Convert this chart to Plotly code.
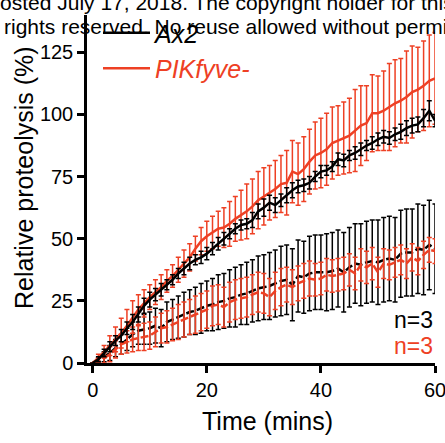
import plotly.graph_objects as go

# ---- data ----
time_min = list(range(61))

ax2 = [0, 1.5, 4, 6.5, 9, 11, 14, 16.5, 19.5, 23,
       25.5, 27.5, 29.5, 31.5, 33.5, 36, 38, 40, 41.5, 42.5,
       44, 46, 48, 50, 52, 54, 55.5, 56, 57.5, 61,
       62.5, 64.5, 63.5, 65.5, 67.5, 69.5, 71, 71.5, 72.5, 75,
       77, 77.5, 79, 82, 81.5, 83.5, 84.5, 86, 87.5, 88.5,
       90, 91, 90.5, 92, 93, 94.5, 95.5, 96, 98.5, 101.5, 97.5]
ax2_err = [0, 1, 1.5, 2, 2, 2.5, 2.5, 3, 3, 3,
           3, 2.5, 2.5, 2, 2, 2, 2.5, 2.5, 2, 2.5,
           2.5, 2.5, 2.5, 2.5, 2, 2, 2, 2, 3, 3,
           3.5, 3, 3, 2.5, 3, 3, 2.5, 2.5, 2.5, 2,
           2.5, 2, 2, 2.5, 2.5, 2, 2.5, 2.5, 2, 2.5,
           2.5, 2.5, 2.5, 2.5, 3, 3, 3, 3, 3.5, 4, 2.5]

pik = [0, 2, 4.5, 7, 9.5, 12, 15, 18.5, 21.5, 24,
       26.5, 28.5, 30.5, 33, 35, 37.5, 40, 42.5, 46, 49,
       51, 52.5, 54, 54.5, 56, 58, 59.5, 61, 63, 65.5,
       67, 68.5, 70, 72, 72.5, 77, 76, 78, 81, 83.5,
       84.5, 86, 88.5, 89.5, 90.5, 91.5, 93.5, 95.5, 96.5, 100.5,
       100.5, 101.5, 103, 104.5, 105.5, 107, 109, 110, 111.5, 113.5, 114.5]
pik_err = [0, 1.5, 2.5, 4, 5, 6, 6.5, 6.5, 6, 5.5,
           5, 5, 5, 4.5, 4.5, 5, 5.5, 5.5, 5, 5.5,
           6, 6.5, 7, 8, 9, 9, 10, 11, 11, 11.5,
           11.5, 11, 11.5, 11.5, 13, 12.5, 12.5, 13, 13, 13.5,
           14, 14.5, 14.5, 14, 14.5, 15, 16.5, 16, 15, 15.5,
           15, 16, 17.5, 17.5, 17, 18.5, 18.5, 17, 18, 18.5, 18.5]

ax2_low = [0, 1, 2.5, 4, 6, 7.5, 9.5, 11.5, 13, 13.5,
           14, 15, 14, 16.5, 17.5, 18.5, 19.5, 20.5, 21, 22,
           23, 23.5, 24.5, 25, 26, 26.5, 27.5, 28, 29, 30,
           30.5, 31, 32, 33, 33.5, 31.5, 35, 34.5, 36, 36.5,
           36.5, 36.5, 37, 38, 36.5, 38.5, 40, 39.5, 40.5, 41,
           40.5, 41.5, 42, 41.5, 44, 44.5, 44.5, 46, 45.5, 47.5, 46]
ax2_low_err = [0, 1, 2, 3, 3.5, 4, 4.5, 5, 5.5, 6,
               6.5, 7, 7.5, 8, 8, 8.5, 9, 9, 9.5, 10,
               10, 10.5, 11, 11, 11.5, 12, 12, 12.5, 12.5, 13,
               13, 13.5, 13.5, 14, 14, 14.5, 14.5, 14.5, 15, 15,
               15, 15.5, 15.5, 15.5, 16, 16, 16, 16.5, 16.5, 16.5,
               17, 17, 17, 17, 17.5, 17.5, 17.5, 18, 18, 18, 18]

pik_low = [0, 1, 2, 3.5, 5.5, 7.5, 8.5, 9.5, 10, 10.5,
           11, 12.5, 14, 14.5, 15.5, 16.5, 17.5, 18.5, 19.5, 20.5,
           21.5, 23, 23.5, 22.5, 24.5, 25.5, 26, 26.5, 27.5, 28.5,
           28, 26.5, 29, 30.5, 31.5, 30.5, 32, 33, 34, 33.5,
           34, 35.5, 35, 35.5, 36, 37.5, 36, 39.5, 38.5, 40,
           36.5, 40, 39.5, 40.5, 41.5, 40, 42.5, 41, 43.5, 45.5, 45]
pik_low_err = [0, 1, 2, 3, 3.5, 4, 4.5, 5, 5, 5.5,
               5.5, 6, 6, 6.5, 6.5, 7, 7, 7, 7.5, 7.5,
               7.5, 8, 8, 8, 8, 8, 8, 8, 8, 8,
               8, 7.5, 7.5, 7.5, 7, 7, 7, 7, 7, 6.5,
               6.5, 6.5, 6.5, 6.5, 6.5, 6.5, 6.5, 6.5, 6.5, 6.5,
               6, 6, 6, 6, 6, 6, 5.5, 5.5, 5.5, 5, 5]

x_ticks = [0, 20, 40, 60]
y_ticks = [0, 25, 50, 75, 100, 125]

BLACK = "#000000"
RED = "#EE4024"
FONT = "Arial, Liberation Sans, sans-serif"

W, H = 445, 443
ML, MR, MT, MB = 87, 10, 15, 80
PW, PH = W - ML - MR, H - MT - MB


def px(xp):
    return (xp - ML) / PW


def py(yp):
    return (H - MB - yp) / PH


def trace(y, err, color, dash, name, show, rank):
    return go.Scatter(
        x=time_min, y=y, mode="lines", name=name, showlegend=show,
        legendrank=rank, legendgroup=name,
        line=dict(color=color, width=2.5, dash=dash),
        error_y=dict(type="data", array=err, visible=True, color=color,
                     thickness=1.5, width=2.5),
        cliponaxis=False,
    )


fig = go.Figure()
fig.add_trace(trace(ax2_low, ax2_low_err, BLACK, "8px,3px", "ax2_low", False, 3))
fig.add_trace(trace(pik_low, pik_low_err, RED, "8px,3px", "pik_low", False, 4))
fig.add_trace(trace(pik, pik_err, RED, "solid",
                    f"<i><span style='color:{RED}'>PIKfyve-</span></i>", True, 2))
fig.add_trace(trace(ax2, ax2_err, BLACK, "solid", "<i>Ax2</i>", True, 1))

axis_common = dict(
    showline=True, linecolor="black", linewidth=2.5,
    ticks="outside", ticklen=7, tickwidth=2.5, tickcolor="black",
    showgrid=False, zeroline=False, ticklabeloverflow="allow",
    automargin=False,
    tickfont=dict(family=FONT, size=20, color="black"),
)

fig.update_layout(
    width=W, height=H, autosize=False,
    margin=dict(l=ML, r=MR, t=MT, b=MB, pad=0, autoexpand=False),
    paper_bgcolor="white", plot_bgcolor="white",
    font=dict(family=FONT, color="black"),
    xaxis=dict(range=[-1.0, 60], tickvals=x_ticks, **axis_common),
    yaxis=dict(range=[0, 140], tickvals=y_ticks, **axis_common),
    legend=dict(x=px(98), y=py(10), xanchor="left", yanchor="top",
                font=dict(family=FONT, size=25, color="black"),
                bgcolor="rgba(0,0,0,0)", traceorder="grouped",
                tracegroupgap=0, itemwidth=47),
)

annots = [
    dict(text="osted July 17, 2018. The copyright holder for this preprint",
         x=px(-2), y=py(3), xanchor="left", yanchor="middle", size=21, color=BLACK),
    dict(text="rights reserved. No reuse allowed without permission.",
         x=px(2), y=py(26), xanchor="left", yanchor="middle", size=21, color=BLACK),
    dict(text="Time (mins)", x=px(267.5), y=py(421), xanchor="center",
         yanchor="middle", size=25, color=BLACK),
    dict(text="n=3", x=px(435), y=py(320), xanchor="right", yanchor="middle",
         size=23, color=BLACK),
    dict(text="n=3", x=px(435), y=py(346), xanchor="right", yanchor="middle",
         size=23, color=RED),
]
for a in annots:
    fig.add_annotation(text=a["text"], xref="paper", yref="paper", x=a["x"], y=a["y"],
                       xanchor=a["xanchor"], yanchor=a["yanchor"], showarrow=False,
                       font=dict(family=FONT, size=a["size"], color=a["color"]))

fig.add_annotation(text="Relative proteolysis (%)", xref="paper", yref="paper",
                   x=px(24), y=py(178), xanchor="center", yanchor="middle",
                   textangle=-90, showarrow=False,
                   font=dict(family=FONT, size=25, color=BLACK))

fig.write_html("out.html",
               config={"displayModeBar": False},
               post_script="document.body.style.margin='0';"
                           "document.body.style.overflow='hidden';")
